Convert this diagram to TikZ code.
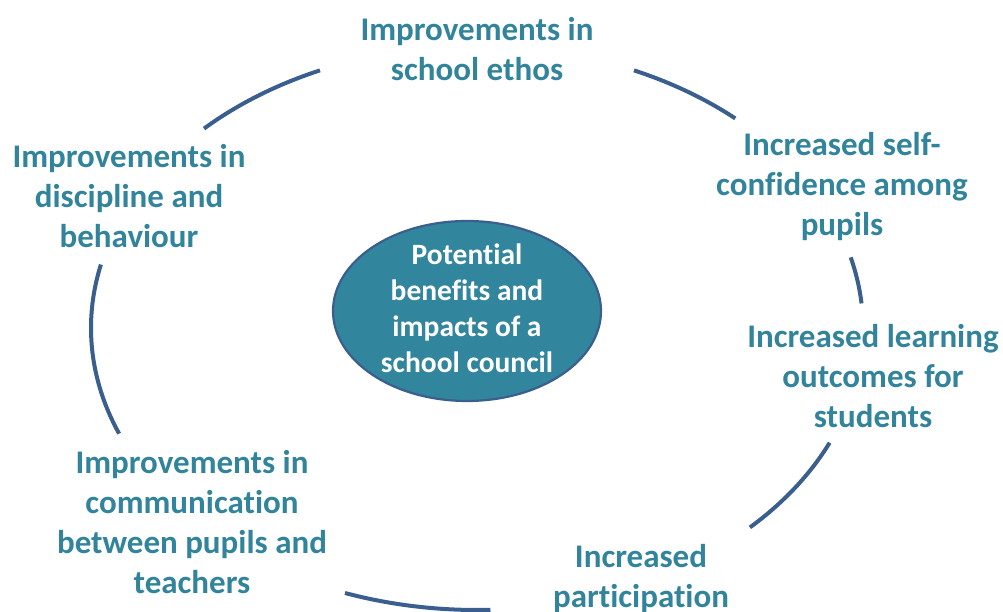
\documentclass[tikz,border=0pt]{standalone}
\usepackage{fontspec}
\setmainfont{Carlito}[Ligatures={NoCommon,NoContextual}]
\newcommand\nlg{\kern0pt }
\definecolor{ringblue}{HTML}{3A5F8F}
\definecolor{labelteal}{HTML}{31849B}
\definecolor{hubfill}{HTML}{31859C}
\tikzset{
  ring/.style={draw=ringblue, line width=4pt},
  lbl/.style={text=labelteal, font=\fontsize{33}{40}\selectfont\bfseries, align=center, inner sep=0pt},
  hub/.style={ellipse, draw=ringblue, line width=2.2pt, fill=hubfill, minimum width=268pt, minimum height=180pt, inner sep=0pt},
  hubtext/.style={text=white, font=\fontsize{29.5}{36}\selectfont\bfseries, align=center, inner sep=0pt}
}
\usetikzlibrary{shapes.geometric}
\begin{document}
\begin{tikzpicture}[x=1pt,y=1pt]
\useasboundingbox (0,0) rectangle (1003,612);
\coordinate (c) at (477,284);
\draw[ring] (c) ++(114:386pt and 282pt) arc[start angle=114, end angle=135, x radius=386pt, y radius=282pt];
\draw[ring] (c) ++(48:386pt and 282pt) arc[start angle=48, end angle=66, x radius=386pt, y radius=282pt];
\draw[ring] (c) ++(5:386pt and 282pt) arc[start angle=5, end angle=14.5, x radius=386pt, y radius=282pt];
\draw[ring] (c) ++(-45:386pt and 282pt) arc[start angle=-45, end angle=-24, x radius=386pt, y radius=282pt];
\draw[ring] (c) ++(250:386pt and 282pt) arc[start angle=250, end angle=272, x radius=386pt, y radius=282pt];
\draw[ring] (c) ++(167:386pt and 282pt) arc[start angle=167, end angle=202, x radius=386pt, y radius=282pt];
\node[hub] (h) at (467,301) {};
\node[hubtext] (ht) at (467,304) {Potent\nlg ial\\benef\nlg its and\\impacts of a\\school council};
\node[lbl] (t1) at (477,563) {Improvements in\\school ethos};
\node[lbl] (t2) at (842,425) {Increased self-\\conf\nlg idence among\\pupils};
\node[lbl] (t3) at (873,236) {Increased learning\\outcomes for\\students};
\node[lbl] (t4) at (641,33) {Increased\\participat\nlg ion};
\node[lbl] (t5) at (192,90) {Improvements in\\communicat\nlg ion\\between pupils and\\teachers};
\node[lbl] (t6) at (129,416) {Improvements in\\discipline and\\behaviour};
\end{tikzpicture}
\end{document}
